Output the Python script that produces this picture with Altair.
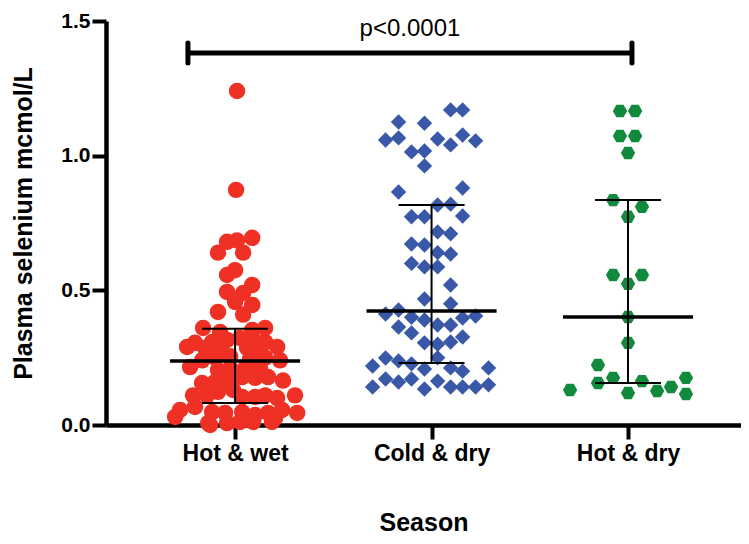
import altair as alt
import pandas as pd

seasons = ["Hot & wet", "Cold & dry", "Hot & dry"]
colors = ["#EE3124", "#3A58A8", "#128A3E"]

# Hot & wet (red circles): values and horizontal swarm offsets (category units)
hw_values = [1.24, 0.873, 0.68, 0.685, 0.695, 0.64, 0.64, 0.575, 0.557, 0.52,
             0.494, 0.49, 0.457, 0.446, 0.42, 0.41, 0.36, 0.345, 0.353, 0.36,
             0.305, 0.308, 0.316, 0.323, 0.319, 0.308, 0.29, 0.29, 0.286, 0.286,
             0.286, 0.27, 0.24, 0.25, 0.255, 0.245, 0.25, 0.24, 0.215, 0.204,
             0.21, 0.21, 0.21, 0.178, 0.156, 0.16, 0.167, 0.178, 0.175, 0.165,
             0.123, 0.13, 0.11, 0.11, 0.104, 0.104, 0.11, 0.1, 0.11, 0.056,
             0.067, 0.048, 0.045, 0.048, 0.037, 0.045, 0.056, 0.045, 0.03, 0.007,
             0.007, 0.011, 0.011, 0.011, 0.026, 0.0, 0.193]
hw_offsets = [0.010, 0.005, -0.041, 0.010, 0.087, -0.087, 0.041, 0.0, -0.041, 0.087,
              -0.041, 0.041, 0.0, 0.087, -0.087, 0.041, -0.163, -0.076, 0.087, 0.153,
              -0.204, -0.117, -0.041, 0.025, 0.092, 0.153, 0.214, -0.244, -0.153, -0.076,
              0.061, 0.127, -0.168, -0.102, -0.025, 0.076, 0.153, 0.229, -0.229, -0.087,
              -0.025, 0.051, 0.127, 0.168, -0.168, -0.102, -0.041, 0.036, 0.102, 0.244,
              -0.087, -0.010, -0.214, -0.143, 0.036, 0.102, 0.153, 0.214, 0.305, -0.280,
              -0.204, -0.117, -0.051, 0.036, 0.102, 0.168, 0.239, 0.316, -0.305, -0.137,
              -0.041, 0.025, 0.092, 0.188, 0.204, -0.127, 0.127]

# Cold & dry (blue diamonds)
cd_values = [1.17, 1.17, 1.125, 1.12, 1.058, 1.066, 1.062, 1.04, 1.077, 1.055,
             1.014, 1.017, 0.962, 0.865, 0.88, 0.817, 0.82, 0.773, 0.773, 0.776,
             0.717, 0.71, 0.672, 0.668, 0.64, 0.635, 0.6, 0.587, 0.587, 0.52,
             0.468, 0.45, 0.412, 0.427, 0.40, 0.39, 0.397, 0.405, 0.364, 0.342,
             0.371, 0.371, 0.327, 0.305, 0.30, 0.308, 0.25, 0.219, 0.249, 0.238,
             0.227, 0.208, 0.212, 0.20, 0.212, 0.171, 0.16, 0.171, 0.163, 0.141,
             0.134, 0.141, 0.141, 0.141, 0.149]
cd_offsets = [0.097, 0.158, -0.168, -0.036, -0.234, -0.168, 0.031, 0.097, 0.158, 0.224,
              -0.102, -0.036, -0.036, -0.168, 0.158, 0.031, 0.097, -0.102, -0.036, 0.158,
              0.031, 0.097, -0.102, -0.036, 0.031, 0.097, -0.102, -0.036, 0.031, 0.097,
              -0.036, 0.097, -0.234, -0.168, -0.102, -0.036, 0.158, 0.224, -0.168, -0.102,
              0.031, 0.097, 0.158, -0.036, 0.031, 0.097, 0.031, -0.300, -0.234, -0.168,
              -0.102, -0.036, 0.097, 0.158, 0.290, -0.234, -0.168, -0.102, 0.031, -0.300,
              -0.036, 0.097, 0.158, 0.224, 0.290]

# Hot & dry (green hexagons)
hd_values = [1.166, 1.166, 1.073, 1.073, 1.01, 0.835, 0.81, 0.773, 0.557, 0.557,
             0.524, 0.401, 0.305, 0.223, 0.156, 0.175, 0.163, 0.13, 0.119, 0.126,
             0.141, 0.175, 0.115]
hd_offsets = [-0.041, 0.036, -0.041, 0.036, 0.0, -0.076, 0.071, 0.0, -0.076, 0.071,
              0.0, 0.0, 0.0, -0.153, -0.153, -0.076, 0.071, -0.295, 0.0, 0.148,
              0.219, 0.295, 0.295]

# Summary lines: median with interquartile range
medians = [0.238, 0.423, 0.401]
q1s = [0.082, 0.230, 0.156]
q3s = [0.357, 0.817, 0.835]

# Significance bracket
bracket_x = [0.76, 3.02]
bracket_y = 1.381
bracket_cap = [1.344, 1.418]
p_label = "p<0.0001"

rows = []
for i, (vals, offs) in enumerate([(hw_values, hw_offsets), (cd_values, cd_offsets), (hd_values, hd_offsets)]):
    for v, o in zip(vals, offs):
        rows.append({"season": seasons[i], "pos": i + 1 + o, "value": v})
points = pd.DataFrame(rows)

centers = [1, 2, 3]
med_half = 0.331
cap_half = 0.168
stats = pd.DataFrame({
    "season": seasons, "c": centers, "median": medians, "q1": q1s, "q3": q3s,
    "m_lo": [c - med_half for c in centers], "m_hi": [c + med_half for c in centers],
    "c_lo": [c - cap_half for c in centers], "c_hi": [c + cap_half for c in centers],
})

FONT = "Liberation Sans"
xscale = alt.Scale(domain=[0.343, 3.575], nice=False, zero=False)
yscale = alt.Scale(domain=[0, 1.5], nice=False, zero=True)

hexagon = "M -1 0 L -0.5 -0.866 L 0.5 -0.866 L 1 0 L 0.5 0.866 L -0.5 0.866 Z"

x_axis = alt.Axis(values=[1, 2, 3],
                  labelExpr="datum.value == 1 ? 'Hot & wet' : (datum.value == 2 ? 'Cold & dry' : 'Hot & dry')",
                  title="Season", grid=False, labelFlush=False, labelFontSize=23,
                  labelPadding=3, titlePadding=45)
y_axis = alt.Axis(values=[0, 0.5, 1.0, 1.5], format=".1f", title="Plasma selenium mcmol/L",
                  grid=False, labelFontSize=21, labelPadding=2, titlePadding=24)

pts = alt.Chart(points).mark_point(filled=True, opacity=1, strokeWidth=0).encode(
    x=alt.X("pos:Q", scale=xscale, axis=x_axis),
    y=alt.Y("value:Q", scale=yscale, axis=y_axis),
    color=alt.Color("season:N", scale=alt.Scale(domain=seasons, range=colors), legend=None),
    shape=alt.Shape("season:N", scale=alt.Scale(domain=seasons, range=["circle", "diamond", hexagon]), legend=None),
    size=alt.Size("season:N", scale=alt.Scale(domain=seasons, range=[272, 205, 225]), legend=None),
)

base = alt.Chart(stats)
med = base.mark_rule(color="black", strokeWidth=3.5).encode(
    x=alt.X("m_lo:Q", scale=xscale), x2="m_hi:Q", y=alt.Y("median:Q", scale=yscale))
vline = base.mark_rule(color="black", strokeWidth=2).encode(
    x=alt.X("c:Q", scale=xscale), y=alt.Y("q1:Q", scale=yscale), y2="q3:Q")
capq1 = base.mark_rule(color="black", strokeWidth=2).encode(
    x=alt.X("c_lo:Q", scale=xscale), x2="c_hi:Q", y=alt.Y("q1:Q", scale=yscale))
capq3 = base.mark_rule(color="black", strokeWidth=2).encode(
    x=alt.X("c_lo:Q", scale=xscale), x2="c_hi:Q", y=alt.Y("q3:Q", scale=yscale))

br = pd.DataFrame({"x1": [bracket_x[0]], "x2": [bracket_x[1]], "y": [bracket_y]})
br_caps = pd.DataFrame({"x": bracket_x, "y1": [bracket_cap[0]] * 2, "y2": [bracket_cap[1]] * 2})
br_line = alt.Chart(br).mark_rule(color="black", strokeWidth=5).encode(
    x=alt.X("x1:Q", scale=xscale), x2="x2:Q", y=alt.Y("y:Q", scale=yscale))
br_cap = alt.Chart(br_caps).mark_rule(color="black", strokeWidth=5, strokeCap="round").encode(
    x=alt.X("x:Q", scale=xscale), y=alt.Y("y1:Q", scale=yscale), y2="y2:Q")
ptxt = alt.Chart(pd.DataFrame({"x": [1.89], "y": [1.445], "t": [p_label]})).mark_text(
    font=FONT, fontSize=24, color="black", baseline="alphabetic", align="center").encode(
    x=alt.X("x:Q", scale=xscale), y=alt.Y("y:Q", scale=yscale), text="t:N")

chart = alt.layer(pts, med, vline, capq1, capq3, br_line, br_cap, ptxt).properties(
    width=635, height=404,
    padding={"left": 98, "top": 13, "right": 0, "bottom": 110},
    autosize="none",
).configure_view(stroke=None).configure_axis(
    domainColor="black", domainWidth=4.5, tickColor="black", tickWidth=4, tickSize=14,
    labelFont=FONT, labelFontWeight="bold", labelColor="black",
    titleFont=FONT, titleFontWeight="bold", titleColor="black", titleFontSize=25,
)

chart.save("out.html", embed_options={"renderer": "svg", "actions": False})
